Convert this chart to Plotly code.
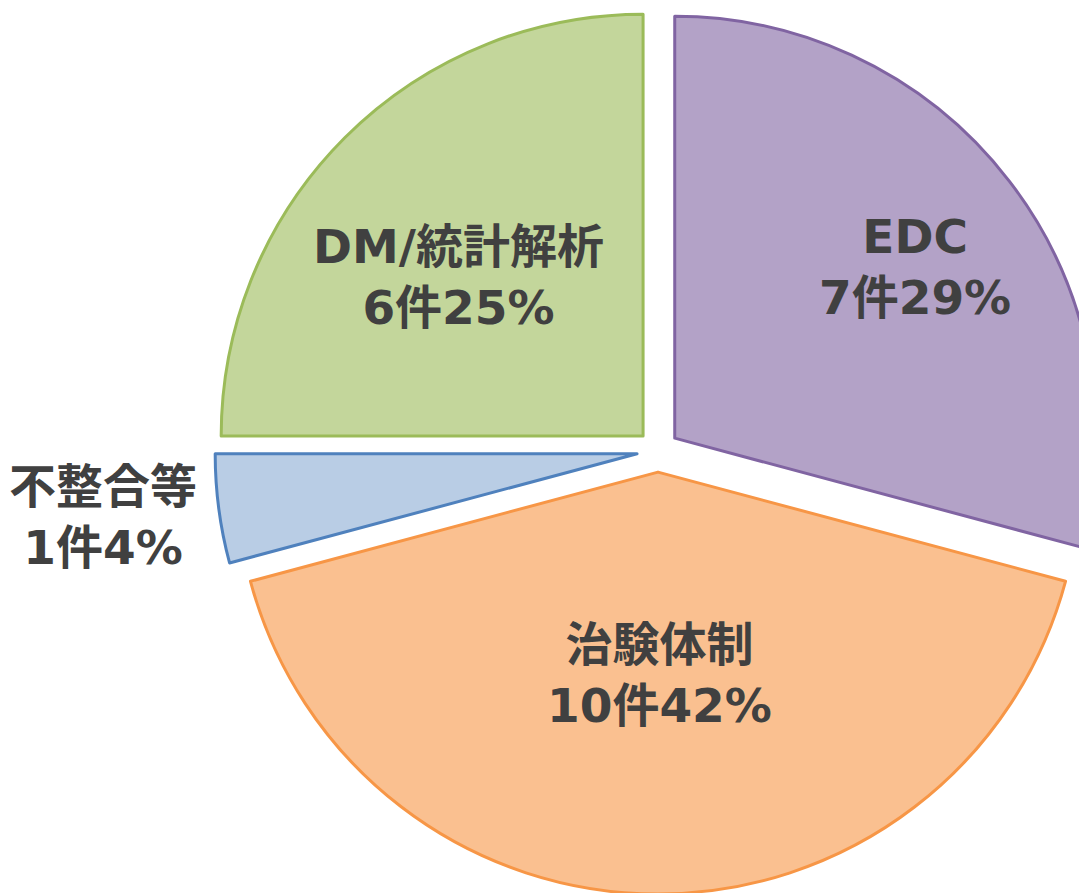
import math
import plotly.graph_objects as go

labels = ["EDC", "治験体制", "不整合等", "DM/統計解析"]
counts = [7, 10, 1, 6]
fill_colors = ["#B3A2C7", "#FAC090", "#B9CDE5", "#C3D69B"]
line_colors = ["#8064A2", "#F79646", "#4F81BD", "#9BBB59"]

# label placement (Excel "best fit" style): angle clockwise from 12 o'clock, distance in radii
label_angle = [54.4, 179.5, 263.2, 311.2]
label_dist = [0.749, 0.531, 1.325, 0.627]

FONT = dict(family="DejaVu Sans, Noto Sans CJK JP, sans-serif", size=47, color="#404040", weight="bold")

W, H = 1100, 893
M_B = 7
PULL = 0.05
plot_h = H - M_B
cx_px = 650.0
half = plot_h / 2
dom_x = [(cx_px - half) / W, (cx_px + half) / W]

fig = go.Figure(
    go.Pie(
        labels=labels,
        values=counts,
        sort=False,
        direction="clockwise",
        rotation=0,
        pull=[PULL] * len(counts),
        marker=dict(colors=fill_colors, line=dict(color=line_colors, width=3)),
        textinfo="none",
        domain=dict(x=dom_x, y=[0, 1]),
        hoverinfo="skip",
        showlegend=False,
    )
)

total = sum(counts)
r_px = half / (1 + PULL)
for lab, n, ang, d in zip(labels, counts, label_angle, label_dist):
    dist = d * r_px
    lx = cx_px + dist * math.sin(math.radians(ang))
    ly = half - dist * math.cos(math.radians(ang))
    pct = round(n / total * 100)
    fig.add_annotation(
        x=lx / W, y=1 - ly / plot_h, xref="paper", yref="paper",
        text=f"{lab}<br>{n}件{pct}%",
        showarrow=False, font=FONT, align="center", xanchor="center", yanchor="middle",
    )

fig.update_layout(
    width=W,
    height=H,
    margin=dict(l=0, r=0, t=0, b=M_B, autoexpand=False),
    paper_bgcolor="white",
    plot_bgcolor="white",
)

fig.write_html("out.html")
